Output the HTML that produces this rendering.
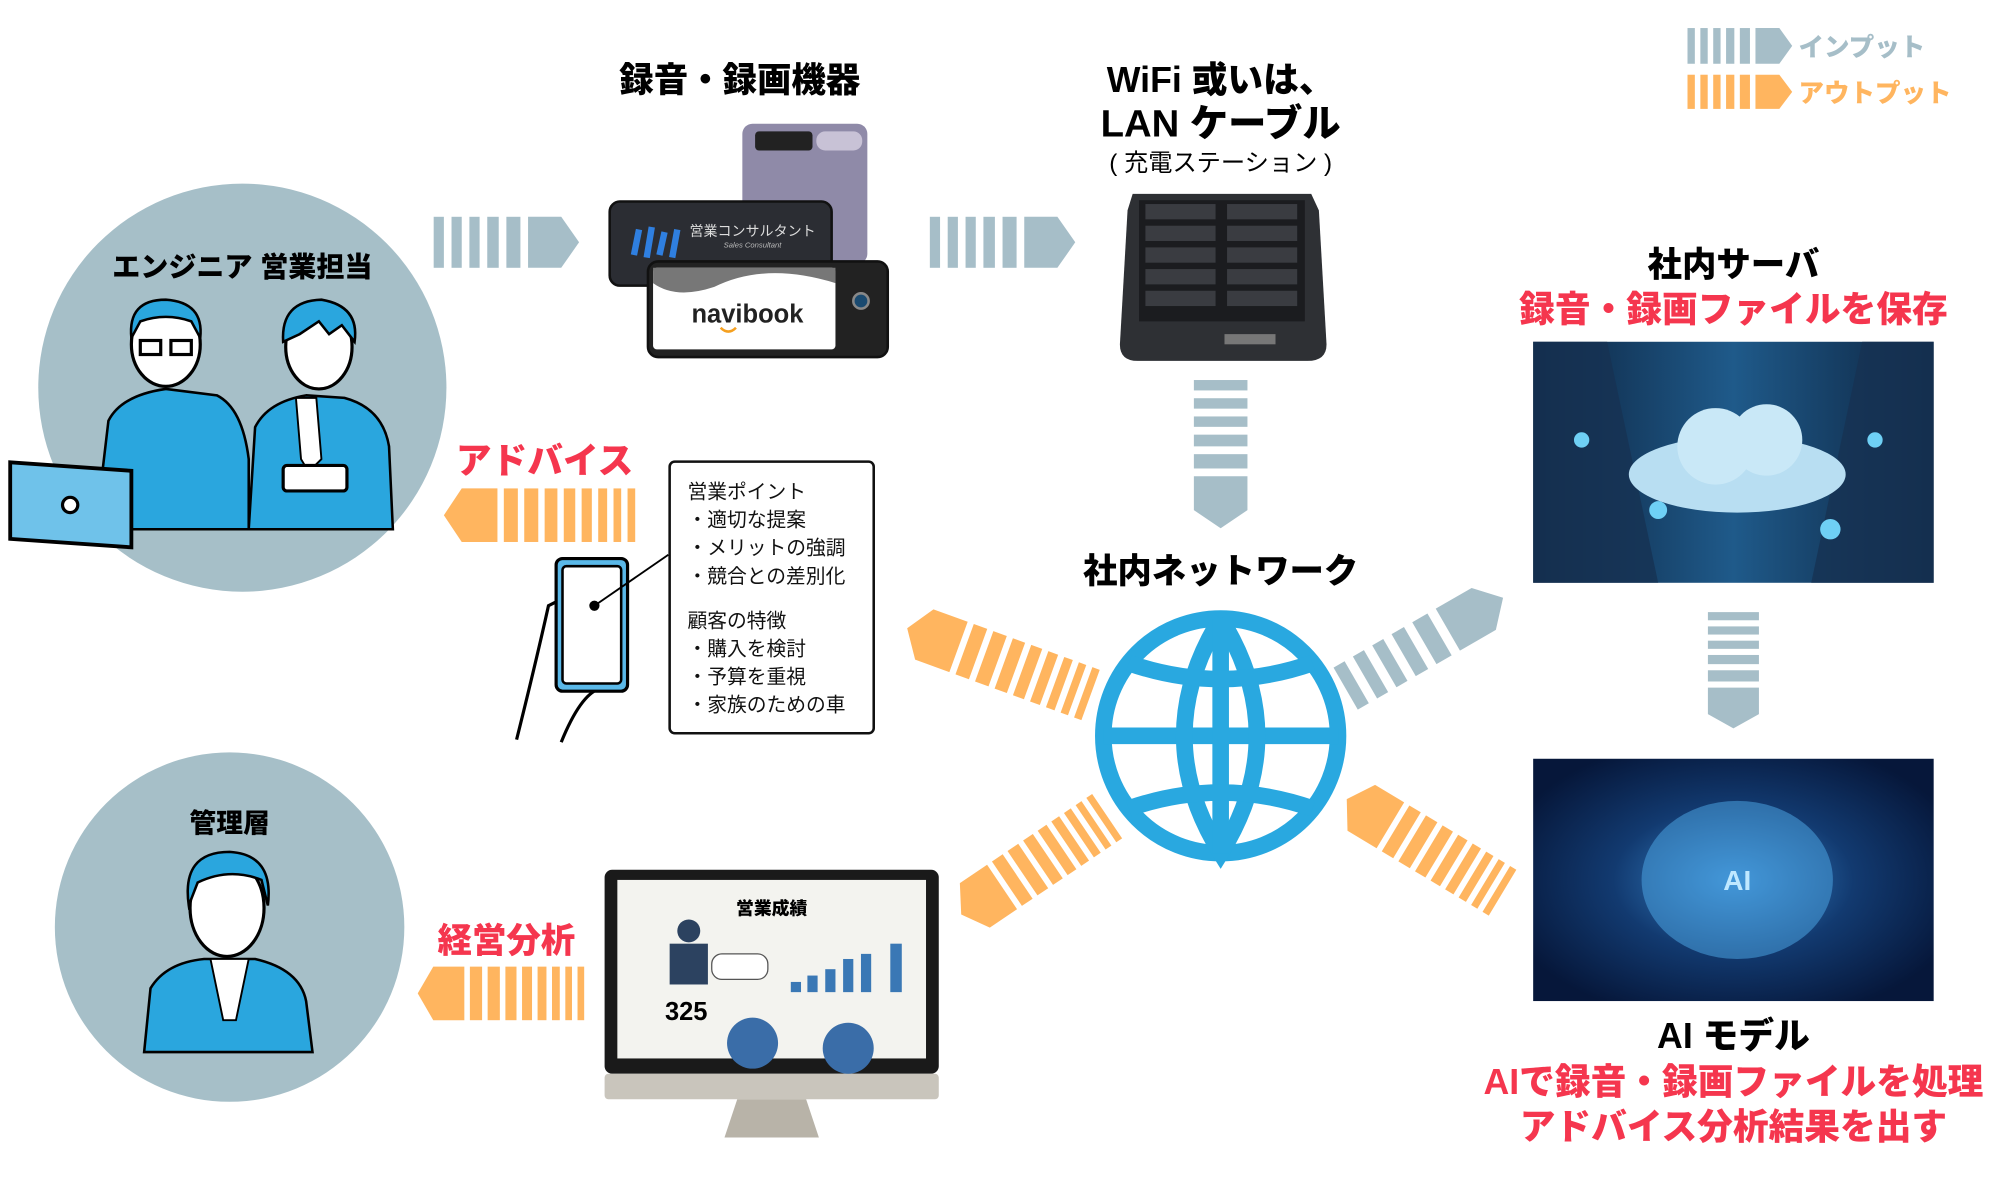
<!DOCTYPE html>
<html><head><meta charset="utf-8">
<style>
html,body{margin:0;padding:0;background:#fff;width:2000px;height:1200px;overflow:hidden}
svg{display:block}
text{font-family:"Liberation Sans","Noto Sans CJK JP",sans-serif}
.b{font-weight:900}
</style></head><body>
<svg width="2000" height="1200" viewBox="0 0 1568 941" preserveAspectRatio="none" xmlns="http://www.w3.org/2000/svg">
<defs>
  <g id="ag">
    <rect x="0" y="-20" width="8" height="40" fill="#a6bec8"/>
    <rect x="14" y="-20" width="8" height="40" fill="#a6bec8"/>
    <rect x="28" y="-20" width="8" height="40" fill="#a6bec8"/>
    <rect x="42" y="-20" width="9" height="40" fill="#a6bec8"/>
    <rect x="57" y="-20" width="11" height="40" fill="#a6bec8"/>
    <polygon points="74,-20 100,-20 114,0 100,20 74,20" fill="#a6bec8"/>
  </g>
  <g id="ao">
    <rect x="0" y="-21" width="6" height="42" fill="#ffb55f"/>
    <rect x="11" y="-21" width="6" height="42" fill="#ffb55f"/>
    <rect x="22" y="-21" width="7" height="42" fill="#ffb55f"/>
    <rect x="34" y="-21" width="8" height="42" fill="#ffb55f"/>
    <rect x="47" y="-21" width="9" height="42" fill="#ffb55f"/>
    <rect x="61" y="-21" width="10" height="42" fill="#ffb55f"/>
    <rect x="76" y="-21" width="11" height="42" fill="#ffb55f"/>
    <rect x="92" y="-21" width="11" height="42" fill="#ffb55f"/>
    <polygon points="108,-21 136,-21 150,0 136,21 108,21" fill="#ffb55f"/>
  </g>
  <linearGradient id="srv" x1="0" y1="0" x2="1" y2="0">
    <stop offset="0" stop-color="#0d2440"/><stop offset=".5" stop-color="#1f5a8a"/><stop offset="1" stop-color="#0d2440"/>
  </linearGradient>
  <radialGradient id="ai" cx=".5" cy=".5" r=".6">
    <stop offset="0" stop-color="#3a8ad0"/><stop offset=".5" stop-color="#123a70"/><stop offset="1" stop-color="#06173a"/>
  </radialGradient>
</defs>

<!-- legend -->
<g transform="translate(1323,36) scale(0.72,0.7)"><use href="#ag"/></g>
<text x="1410" y="44" class="b" font-size="20" fill="#a6bec8">インプット</text>
<g transform="translate(1323,72) scale(0.72,0.67)">
  <rect x="0" y="-20" width="8" height="40" fill="#ffb55f"/><rect x="14" y="-20" width="8" height="40" fill="#ffb55f"/><rect x="28" y="-20" width="8" height="40" fill="#ffb55f"/><rect x="42" y="-20" width="9" height="40" fill="#ffb55f"/><rect x="57" y="-20" width="11" height="40" fill="#ffb55f"/><polygon points="74,-20 100,-20 114,0 100,20 74,20" fill="#ffb55f"/>
</g>
<text x="1410" y="80" class="b" font-size="20" fill="#ffb55f">アウトプット</text>

<!-- circle 1 -->
<ellipse cx="190" cy="304" rx="160" ry="160" fill="#a6bfc8"/>
<text x="190" y="217" text-anchor="middle" class="b" font-size="22">エンジニア  営業担当</text>
<path d="M75,415 L85,330 Q95,310 130,305 L170,310 Q190,320 195,360 L195,415 Z" fill="#2aa6de" stroke="#000" stroke-width="2"/>
<ellipse cx="130" cy="270" rx="27" ry="33" fill="#fff" stroke="#000" stroke-width="2.5"/>
<path d="M103,265 Q100,235 130,235 Q160,237 157,265 L150,252 Q130,245 110,252 Z" fill="#2aa6de" stroke="#000" stroke-width="2"/>
<rect x="110" y="267" width="16" height="11" fill="none" stroke="#000" stroke-width="2.5"/><rect x="134" y="267" width="16" height="11" fill="none" stroke="#000" stroke-width="2.5"/>
<rect x="8" y="362" width="95" height="60" fill="#6fc2ea" stroke="#000" stroke-width="3" transform="skewY(4)"/>
<circle cx="55" cy="396" r="6" fill="#fff" stroke="#000" stroke-width="2.5"/>
<path d="M195,415 L200,335 Q210,315 240,310 L270,312 Q300,320 305,350 L308,415 Z" fill="#2aa6de" stroke="#000" stroke-width="2"/>
<path d="M232,312 L248,312 L252,360 L242,370 L236,360 Z" fill="#fff" stroke="#000" stroke-width="1.5"/>
<ellipse cx="250" cy="272" rx="26" ry="33" fill="#fff" stroke="#000" stroke-width="2.5"/>
<path d="M222,268 Q220,236 252,235 Q282,240 278,268 L268,255 L258,262 L250,252 L235,262 Z" fill="#2aa6de" stroke="#000" stroke-width="2"/>
<rect x="222" y="365" width="50" height="20" rx="3" fill="#fff" stroke="#000" stroke-width="2.5"/>

<!-- titles top -->
<text x="580" y="72" text-anchor="middle" class="b" font-size="27">録音・録画機器</text>
<text x="957" y="72" text-anchor="middle" class="b" font-size="28">WiFi 或いは、</text>
<text x="957" y="107" text-anchor="middle" class="b" font-size="30">LAN ケーブル</text>
<text x="957" y="134" text-anchor="middle" font-size="19">( 充電ステーション )</text>

<!-- devices -->
<rect x="582" y="97" width="98" height="110" rx="8" fill="#8f8aa8"/>
<rect x="592" y="103" width="45" height="15" rx="3" fill="#222"/>
<rect x="640" y="103" width="36" height="15" rx="7" fill="#c8c2d6"/>
<rect x="478" y="158" width="174" height="66" rx="8" fill="#2b2d33" stroke="#111" stroke-width="2"/>
<path d="M497,200 l4,-20 M507,202 l4,-24 M517,200 l4,-18 M527,202 l4,-22" stroke="#2f7fe0" stroke-width="5"/>
<text x="590" y="185" text-anchor="middle" font-size="11" fill="#ddd">営業コンサルタント</text>
<text x="590" y="194" text-anchor="middle" font-size="6" fill="#bbb" font-style="italic">Sales Consultant</text>
<rect x="508" y="205" width="188" height="75" rx="8" fill="#222" stroke="#111" stroke-width="2"/>
<rect x="512" y="210" width="143" height="64" rx="3" fill="#fff"/>
<path d="M512,210 L655,210 L655,222 Q600,205 560,225 Q530,235 512,222 Z" fill="#777"/>
<text x="586" y="253" text-anchor="middle" class="b" font-size="20" fill="#222">navibook</text>
<path d="M565,257 q6,6 12,0" stroke="#f5a020" stroke-width="2" fill="none"/>
<circle cx="675" cy="236" r="6" fill="#1a4a70" stroke="#888" stroke-width="2"/>

<g transform="translate(340,190)"><use href="#ag"/></g>
<g transform="translate(729,190)"><use href="#ag"/></g>

<!-- charging station -->
<path d="M888,152 L1028,152 L1034,165 L1040,270 Q1040,283 1025,283 L892,283 Q878,283 878,270 L884,165 Z" fill="#2e3034"/>
<rect x="893" y="157" width="130" height="95" fill="#1b1c1f"/>
<g fill="#3a3c41">
<rect x="898" y="160" width="55" height="12"/><rect x="962" y="160" width="55" height="12"/>
<rect x="898" y="177" width="55" height="12"/><rect x="962" y="177" width="55" height="12"/>
<rect x="898" y="194" width="55" height="12"/><rect x="962" y="194" width="55" height="12"/>
<rect x="898" y="211" width="55" height="12"/><rect x="962" y="211" width="55" height="12"/>
<rect x="898" y="228" width="55" height="12"/><rect x="962" y="228" width="55" height="12"/>
</g>
<rect x="960" y="262" width="40" height="8" fill="#777"/>

<g transform="translate(957,298) rotate(90) scale(1.02,1.05)"><use href="#ag"/></g>

<!-- network -->
<text x="957" y="457" text-anchor="middle" class="b" font-size="27">社内ネットワーク</text>
<g fill="none" stroke="#29a8e0" stroke-width="13">
<circle cx="957" cy="577" r="92"/>
<line x1="865" y1="577" x2="1049" y2="577"/>
<path d="M957,485 Q900,577 957,669 Q1014,577 957,485"/>
<line x1="957" y1="485" x2="957" y2="669"/>
<path d="M885,520 Q957,545 1029,520"/>
<path d="M885,634 Q957,609 1029,634"/>
</g>

<text x="427" y="371" text-anchor="middle" class="b" font-size="28" fill="#f5364e">アドバイス</text>
<g transform="translate(498,404) rotate(180)"><use href="#ao"/></g>

<!-- phone -->
<path d="M405,580 Q420,520 430,475 L440,470 M440,582 Q455,545 470,540" stroke="#000" stroke-width="2.5" fill="none"/>
<rect x="436" y="438" width="56" height="104" rx="5" fill="#5ab8e8" stroke="#000" stroke-width="2.5"/>
<rect x="441" y="444" width="46" height="92" rx="3" fill="#fff" stroke="#000" stroke-width="2"/>
<line x1="466" y1="475" x2="524" y2="435" stroke="#000" stroke-width="1.5"/>
<circle cx="466" cy="475" r="4" fill="#000"/>

<rect x="525" y="362" width="160" height="213" rx="4" fill="#fff" stroke="#111" stroke-width="2"/>
<g font-size="15.5" fill="#111">
<text x="539" y="391">営業ポイント</text>
<text x="539" y="413">・適切な提案</text>
<text x="539" y="435">・メリットの強調</text>
<text x="539" y="457">・競合との差別化</text>
<text x="539" y="492">顧客の特徴</text>
<text x="539" y="514">・購入を検討</text>
<text x="539" y="536">・予算を重視</text>
<text x="539" y="558">・家族のための車</text>
</g>

<!-- circle 2 -->
<ellipse cx="180" cy="727" rx="137" ry="137" fill="#a6bfc8"/>
<text x="180" y="653" text-anchor="middle" class="b" font-size="21">管理層</text>
<path d="M113,825 L118,775 Q130,755 160,752 L200,752 Q235,760 240,785 L245,825 Z" fill="#2aa6de" stroke="#000" stroke-width="2"/>
<path d="M165,752 L195,752 L185,800 L175,800 Z" fill="#fff" stroke="#000" stroke-width="1.5"/>
<ellipse cx="178" cy="712" rx="29" ry="38" fill="#fff" stroke="#000" stroke-width="2.5"/>
<path d="M148,710 Q142,668 180,668 Q215,670 210,710 L205,690 Q180,680 155,692 Z" fill="#2aa6de" stroke="#000" stroke-width="2"/>

<text x="397" y="747" text-anchor="middle" class="b" font-size="27" fill="#f5364e">経営分析</text>
<g transform="translate(458,779) rotate(180) scale(0.87,1)"><use href="#ao"/></g>

<!-- monitor -->
<rect x="474" y="682" width="262" height="160" rx="6" fill="#1a1a1a"/>
<rect x="484" y="690" width="242" height="140" fill="#f3f3ef"/>
<rect x="474" y="842" width="262" height="20" rx="3" fill="#c9c5bc"/>
<path d="M578,862 L632,862 L642,892 L568,892 Z" fill="#b8b3a8"/>
<text x="605" y="717" text-anchor="middle" class="b" font-size="14">営業成績</text>
<rect x="525" y="740" width="30" height="32" fill="#2c4260"/>
<circle cx="540" cy="730" r="9" fill="#2c4260"/>
<rect x="558" y="748" width="44" height="20" rx="8" fill="#fff" stroke="#555"/>
<g fill="#3a78b5"><rect x="620" y="770" width="8" height="8"/><rect x="633" y="765" width="8" height="13"/><rect x="647" y="760" width="8" height="18"/><rect x="661" y="752" width="8" height="26"/><rect x="675" y="748" width="8" height="30"/><rect x="698" y="740" width="9" height="38"/></g>
<text x="538" y="800" text-anchor="middle" class="b" font-size="20">325</text>
<circle cx="590" cy="818" r="20" fill="#3a6da8"/>
<circle cx="665" cy="822" r="20" fill="#3a6da8"/>

<!-- server -->
<text x="1359" y="217" text-anchor="middle" class="b" font-size="27">社内サーバ</text>
<text x="1359" y="252" text-anchor="middle" class="b" font-size="28" fill="#f5364e">録音・録画ファイルを保存</text>
<rect x="1202" y="268" width="314" height="189" fill="url(#srv)"/>
<path d="M1202,268 L1260,268 L1300,457 L1202,457 Z M1516,268 L1460,268 L1420,457 L1516,457 Z" fill="#163252" opacity=".8"/>
<ellipse cx="1362" cy="372" rx="85" ry="30" fill="#b8def2"/>
<circle cx="1345" cy="350" r="30" fill="#c9e8f7"/><circle cx="1385" cy="345" r="28" fill="#c9e8f7"/>
<g fill="#6fd0f5"><circle cx="1240" cy="345" r="6"/><circle cx="1470" cy="345" r="6"/><circle cx="1300" cy="400" r="7"/><circle cx="1435" cy="415" r="8"/></g>

<g transform="translate(1359,480) rotate(90) scale(0.8,1)"><use href="#ag"/></g>

<!-- AI -->
<rect x="1202" y="595" width="314" height="190" fill="url(#ai)"/>
<ellipse cx="1362" cy="690" rx="75" ry="62" fill="#4aa3e0" opacity=".55"/>
<text x="1362" y="698" text-anchor="middle" class="b" font-size="22" fill="#bfe8ff">AI</text>
<text x="1359" y="822" text-anchor="middle" class="b" font-size="28">AI モデル</text>
<text x="1359" y="858" text-anchor="middle" class="b" font-size="28" fill="#f5364e">AIで録音・録画ファイルを処理</text>
<text x="1359" y="893" text-anchor="middle" class="b" font-size="28" fill="#f5364e">アドバイス分析結果を出す</text>

<g transform="translate(855,545) rotate(200) scale(1.02,1)"><use href="#ao"/></g>
<g transform="translate(1055,540) rotate(-30) scale(1.25,0.95)"><use href="#ag"/></g>
<g transform="translate(868,640) rotate(146) scale(0.92,1)"><use href="#ao"/></g>
<g transform="translate(1178,700) rotate(211) scale(0.95,1)"><use href="#ao"/></g>
</svg>
</body></html>
